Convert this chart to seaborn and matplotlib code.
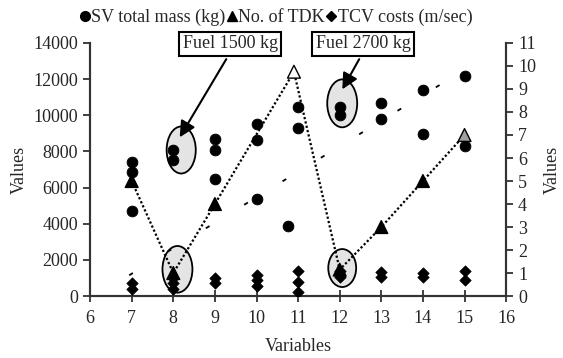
import matplotlib
matplotlib.use("Agg")
import matplotlib.pyplot as plt
from matplotlib.patches import Ellipse
from matplotlib.lines import Line2D
import seaborn as sns
import pandas as pd

sns.set_theme(style="ticks")
plt.rcParams['font.family'] = ['Liberation Serif', 'DejaVu Serif']

# SV total mass (kg), left axis
mass_x = [7, 7, 7, 8, 8, 9, 9, 9, 10, 10, 10, 10.75, 11, 11, 12, 12, 13, 13, 14, 14, 15, 15]
mass_y = [7400, 6850, 4700, 8100, 7550, 8700, 8100, 6500, 9500, 8650, 5350, 3850,
          10450, 9300, 10450, 10000, 10700, 9800, 11400, 8950, 12200, 8300]

# No. of TDK, right axis
tdk_x = [7, 8, 9, 10.9, 12, 13, 14, 15]
tdk_y = [5, 1.0, 4, 9.75, 1.15, 3, 5, 7]
tdk_fill = ['black', 'black', 'black', 'white', 'black', 'black', 'black', 'gray']

# TCV costs (m/sec), right axis
tcv_x = [7, 7, 8, 8, 8, 9, 9, 10, 10, 10, 11, 11, 11, 12, 12, 13, 13, 14, 14, 15, 15]
tcv_y = [0.55, 0.32, 0.8, 0.55, 0.3, 0.77, 0.55, 0.9, 0.7, 0.43, 1.1, 0.6, 0.16,
         1.1, 0.85, 1.05, 0.84, 1.0, 0.84, 1.1, 0.7]

# sparse dashed trend of the mass values
trend_x = [6.94, 15.2]
trend_y = [1150, 12800]

mass = pd.DataFrame({'x': mass_x, 'y': mass_y})
tdk = pd.DataFrame({'x': tdk_x, 'y': tdk_y, 'fill': tdk_fill})
tcv = pd.DataFrame({'x': tcv_x, 'y': tcv_y})
trend = pd.DataFrame({'x': trend_x, 'y': trend_y})

fig = plt.figure(figsize=(5.63, 3.58), dpi=100)
ax = fig.add_axes([0.160, 0.173, 0.739, 0.707])
ax2 = ax.twinx()

# highlight ellipses
for cx, cy, w, h in [(8.19, 8080, 0.70, 2600), (8.10, 1480, 0.72, 2580),
                     (12.06, 10660, 0.72, 2650), (12.06, 1550, 0.67, 2100)]:
    ax.add_patch(Ellipse((cx, cy), w, h, facecolor='#e4e4e4', edgecolor='black',
                         lw=1.3, zorder=1))

sns.lineplot(data=trend, x='x', y='y', ax=ax, color='black', lw=1.3,
             linestyle=(0, (2.4, 22.5)), zorder=2)
sns.scatterplot(data=mass, x='x', y='y', ax=ax, color='black', marker='o', s=60,
                edgecolor='black', zorder=3)

sns.lineplot(data=tdk, x='x', y='y', ax=ax2, color='black', lw=1.6,
             linestyle=(0, (1, 1)), zorder=2)
sns.scatterplot(data=tdk, x='x', y='y', ax=ax2, hue='fill', marker='^', s=85,
                palette={'black': 'black', 'white': 'white', 'gray': '#a0a0a0'},
                edgecolor='black', linewidth=1, legend=False, zorder=3)
sns.scatterplot(data=tcv, x='x', y='y', ax=ax2, color='black', marker='D', s=34,
                edgecolor='black', zorder=3)

ax.set_xlim(6, 16)
ax.set_ylim(0, 14000)
ax2.set_ylim(0, 11)
ax.set_xticks(range(6, 17))
ax.set_yticks(range(0, 14001, 2000))
ax2.set_yticks(range(0, 12))

fs = 13
ax.set_xlabel('Variables', fontsize=fs, labelpad=8)
ax.set_ylabel('Values', fontsize=fs, labelpad=4)
ax2.set_ylabel('Values', fontsize=fs, rotation=90, labelpad=6)
ax.tick_params(axis='y', labelsize=fs, direction='out', length=5, width=1.3, color='#333333')
ax.tick_params(axis='x', labelsize=fs, direction='inout', length=8, width=1.3,
               color='#333333', pad=6)
ax2.tick_params(axis='y', labelsize=fs, direction='out', length=5, width=1.3, color='#333333')

for a in (ax, ax2):
    a.spines['top'].set_visible(False)
    for s in ('left', 'right', 'bottom'):
        a.spines[s].set_color('#333333')
        a.spines[s].set_linewidth(1.5)
    a.grid(False)

# annotations
box = dict(boxstyle='square,pad=0.2', facecolor='white', edgecolor='black', lw=1.5)
ax2.annotate('Fuel 1500 kg', xy=(8.12, 8650 * 11 / 14000), xytext=(9.37, 10.96),
             ha='center', va='center', fontsize=fs, bbox=box, annotation_clip=False,
             arrowprops=dict(arrowstyle='-|>', color='black', lw=1.5,
                             mutation_scale=24, relpos=(0.5, 0)))
ax2.annotate('Fuel 2700 kg', xy=(12.03, 11300 * 11 / 14000), xytext=(12.56, 10.96),
             ha='center', va='center', fontsize=fs, bbox=box, annotation_clip=False,
             arrowprops=dict(arrowstyle='-|>', color='black', lw=1.5,
                             mutation_scale=24, relpos=(0.5, 0)))

handles = [
    Line2D([], [], marker='o', color='black', linestyle='none', markersize=7),
    Line2D([], [], marker='^', color='black', linestyle='none', markersize=7),
    Line2D([], [], marker='D', color='black', linestyle='none', markersize=5),
]
labels = ['SV total mass (kg)', 'No. of TDK', 'TCV costs (m/sec)']
fig.legend(handles, labels, loc='upper center', bbox_to_anchor=(0.49, 1.0), ncol=3,
           frameon=False, fontsize=fs, handlelength=0.6, handletextpad=0.05,
           columnspacing=0.05, borderaxespad=0.1)

plt.savefig('out.png', dpi=100)
